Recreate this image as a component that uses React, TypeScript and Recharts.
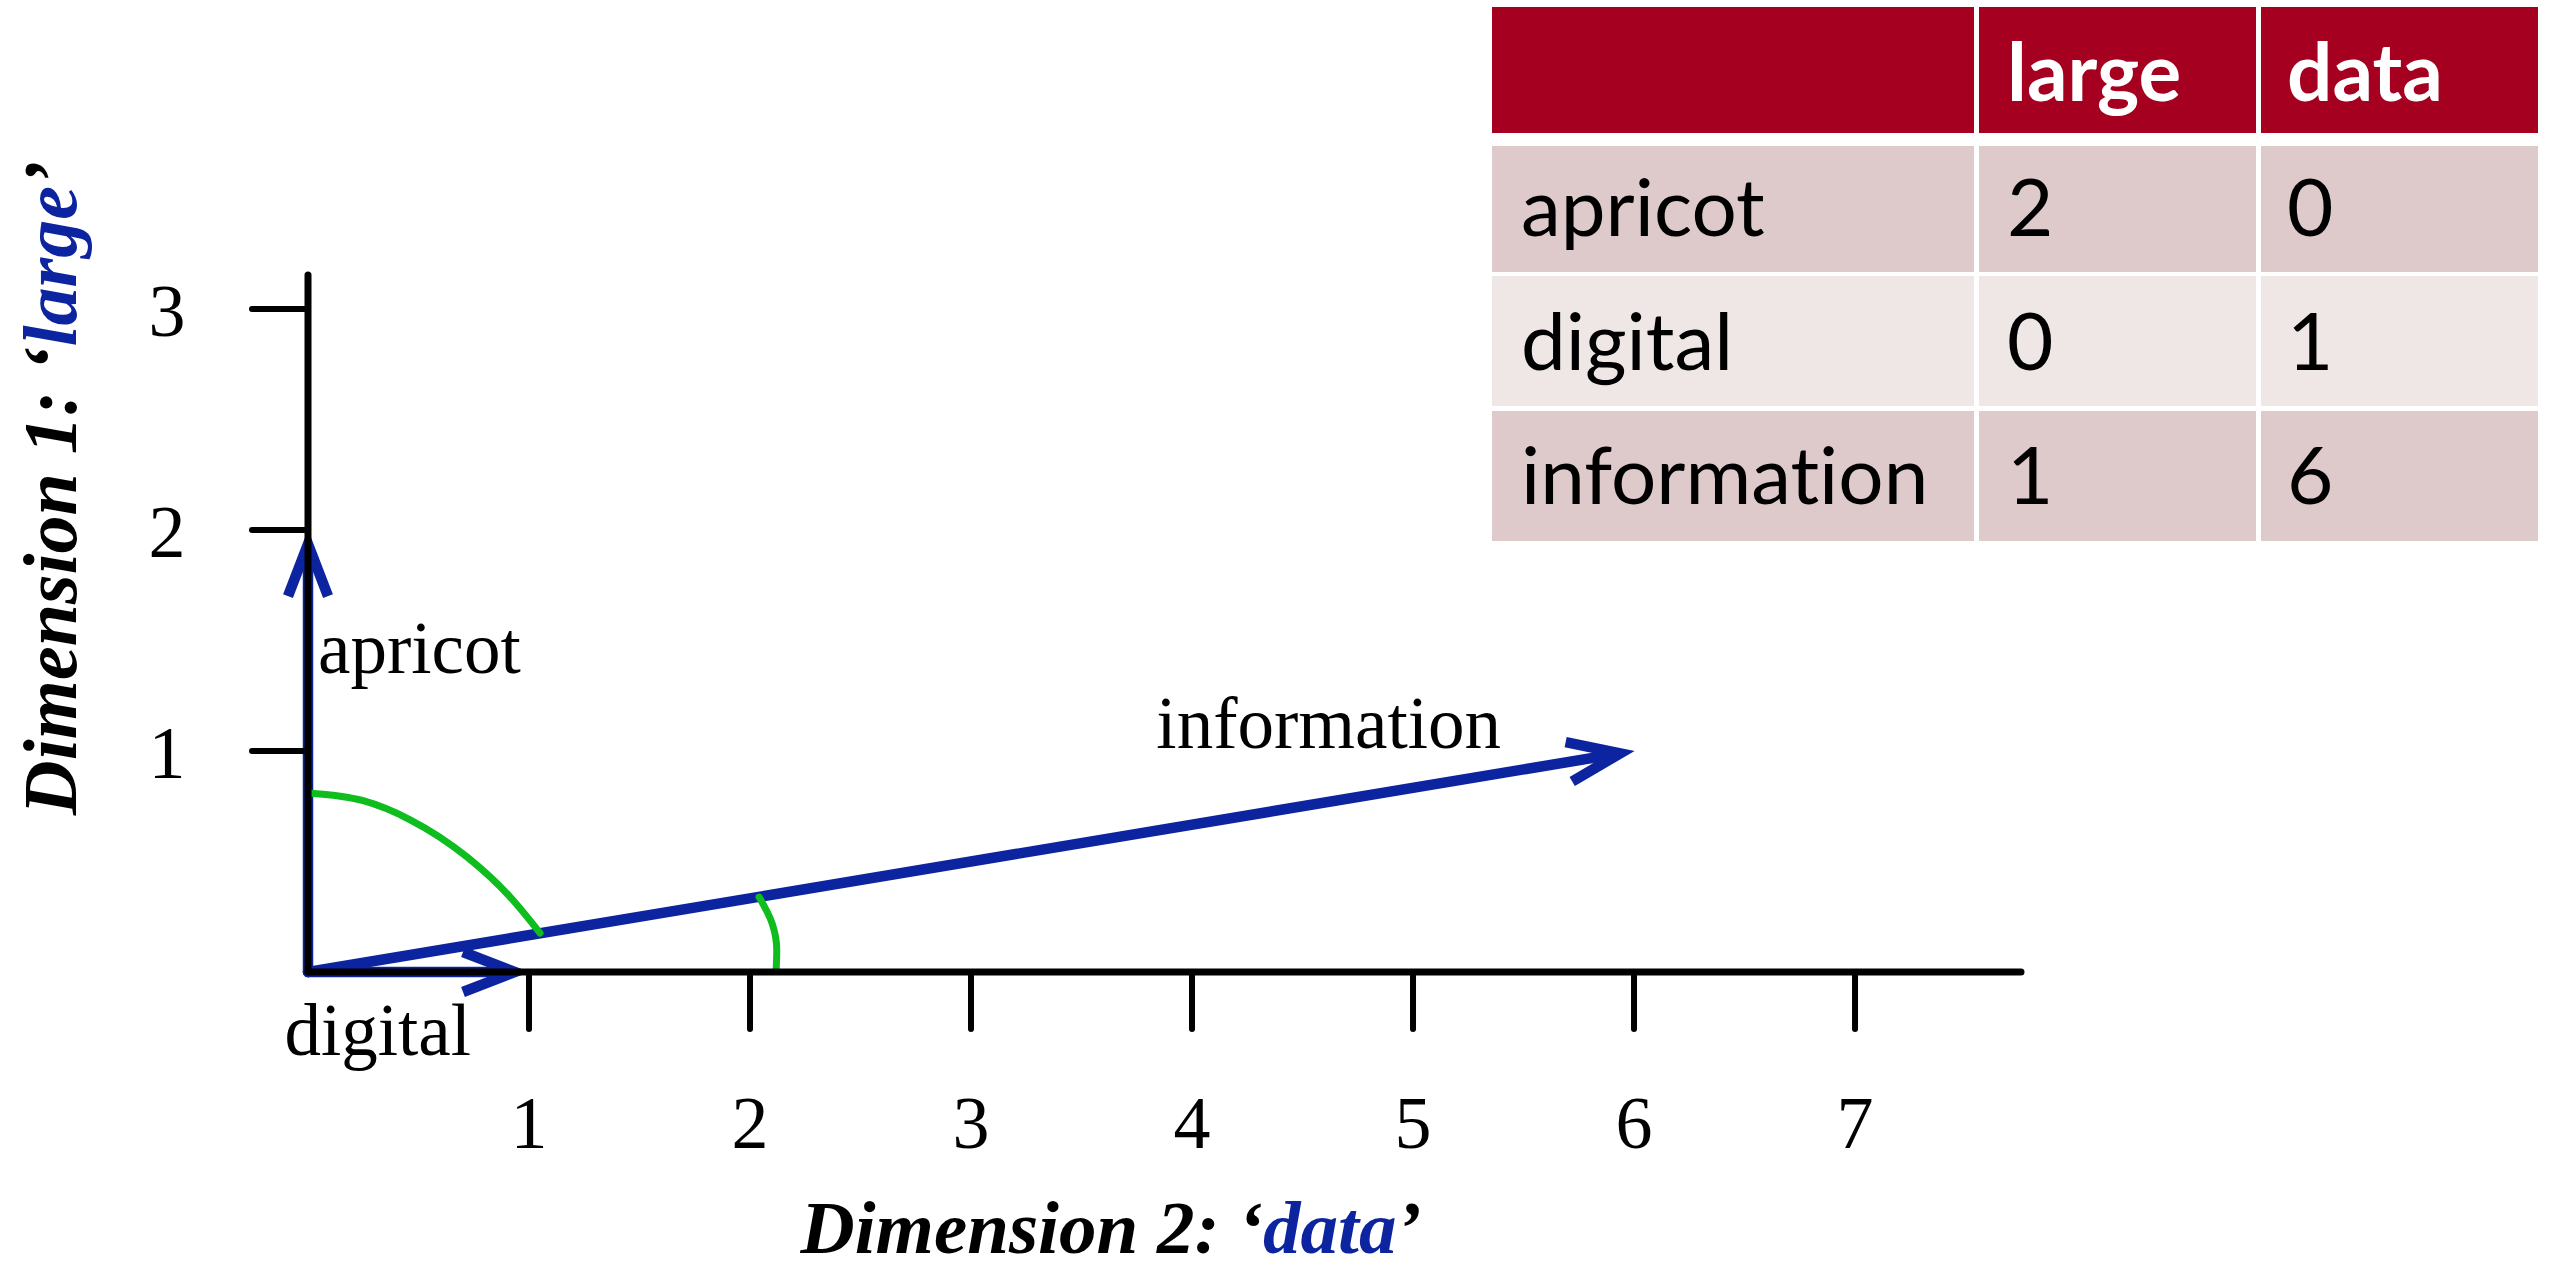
import React from 'react';
import { LineChart, Line, XAxis, YAxis, ReferenceLine } from 'recharts';

// ---------- data ----------
const xTicks = [1, 2, 3, 4, 5, 6, 7];
const yTicks = [1, 2, 3];
const words = ['apricot', 'digital', 'information'];
const largeCounts = [2, 0, 1];
const dataCounts = [0, 1, 6];
const tableHeaders = ['', 'large', 'data'];
const xAxisTitle = ['Dimension 2: \u2018', 'data', '\u2019'];
const yAxisTitle = ['Dimension 1: \u2018', 'large', '\u2019'];

// angle arcs (x = data, y = large)
const arcWide = [
  { x: 0, y: 0.81 },
  { x: 0.25, y: 0.775 },
  { x: 0.46, y: 0.69 },
  { x: 0.72, y: 0.52 },
  { x: 0.914, y: 0.34 },
  { x: 1.05, y: 0.176 },
];
const arcNarrow = [
  { x: 2.041, y: 0.339 },
  { x: 2.1, y: 0.22 },
  { x: 2.121, y: 0.1 },
  { x: 2.118, y: 0 },
];

// ---------- styles ----------
const BLUE = '#0D24A0';
const GREEN = '#0FBE1E';
const SERIF = '"Liberation Serif", "Times New Roman", serif';
const SANS = 'Lato, "Open Sans", sans-serif';
const labelStyle: Record<string, { dx: number; dy: number; anchor: string }> = {
  apricot: { dx: 10, dy: 143, anchor: 'start' },
  digital: { dx: -58, dy: 83, anchor: 'end' },
  information: { dx: -133, dy: -3, anchor: 'end' },
};

const renderVector = (p: any, word: string) => {
  const { x1, y1, x2, y2 } = p;
  const dx = x2 - x1;
  const dy = y2 - y1;
  const len = Math.hypot(dx, dy);
  const ux = dx / len;
  const uy = dy / len;
  const nx = -uy;
  const ny = ux;
  const vx = x2 - ux * 14;
  const vy = y2 - uy * 14;
  const back = 52;
  const side = 20;
  const b1x = vx - ux * back + nx * side;
  const b1y = vy - uy * back + ny * side;
  const b2x = vx - ux * back - nx * side;
  const b2y = vy - uy * back - ny * side;
  const ls = labelStyle[word];
  return (
    <g>
      <line x1={x1} y1={y1} x2={vx - ux * 8} y2={vy - uy * 8} stroke={BLUE} strokeWidth={10.5} strokeLinecap="round" />
      <polyline
        points={`${b1x},${b1y} ${vx},${vy} ${b2x},${b2y}`}
        fill="none"
        stroke={BLUE}
        strokeWidth={10.5}
        strokeLinejoin="miter"
        strokeMiterlimit={6}
        strokeLinecap="butt"
      />
      <text x={x2 + ls.dx} y={y2 + ls.dy} textAnchor={ls.anchor as any} fontFamily={SERIF} fontSize={73} fill="#000">
        {word}
      </text>
    </g>
  );
};

const XTick = (props: any) => {
  const { x, y, payload } = props;
  return (
    <text x={x} y={y + 119} textAnchor="middle" fontFamily={SERIF} fontSize={74} fill="#000">
      {payload.value}
    </text>
  );
};

const YTick = (props: any) => {
  const { x, y, payload } = props;
  return (
    <text x={x - 85} y={y + 27} textAnchor="middle" fontFamily={SERIF} fontSize={74} fill="#000">
      {payload.value}
    </text>
  );
};

const XTitle = () => (
  <text x={1111} y={1253} textAnchor="middle" fontFamily={SERIF} fontWeight="bold" fontStyle="italic" fontSize={75}>
    <tspan fill="#000">{xAxisTitle[0]}</tspan>
    <tspan fill={BLUE}>{xAxisTitle[1]}</tspan>
    <tspan fill="#000">{xAxisTitle[2]}</tspan>
  </text>
);

const YTitle = () => (
  <text
    x={76}
    y={488}
    transform="rotate(-90, 76, 488)"
    textAnchor="middle"
    fontFamily={SERIF}
    fontWeight="bold"
    fontStyle="italic"
    fontSize={76}
  >
    <tspan fill="#000">{yAxisTitle[0]}</tspan>
    <tspan fill={BLUE}>{yAxisTitle[1]}</tspan>
    <tspan fill="#000">{yAxisTitle[2]}</tspan>
  </text>
);

const TermTable = () => {
  const cols = [
    { x: 0, w: 482, tx: 29 },
    { x: 487, w: 277, tx: 515 },
    { x: 769, w: 277, tx: 795 },
  ];
  const rows = [
    { y: 0, h: 126, fill: '#A5001F', base: 94 },
    { y: 139, h: 126, fill: '#DFCACB', base: 229 },
    { y: 269, h: 130, fill: '#EFE6E6', base: 363 },
    { y: 404, h: 130, fill: '#DFCACB', base: 497 },
  ];
  const cells: string[][] = [
    tableHeaders,
    ...words.map((w, i) => [w, String(largeCounts[i]), String(dataCounts[i])]),
  ];
  return (
    <svg width={1046} height={534} style={{ position: 'absolute', left: 1492, top: 7 }}>
      {rows.map((r, ri) =>
        cols.map((c, ci) => (
          <g key={`${ri}-${ci}`}>
            <rect x={c.x} y={r.y} width={c.w} height={r.h} fill={r.fill} />
            <text
              x={c.tx}
              y={r.base}
              fontFamily={SANS}
              fontSize={80}
              fontWeight={ri === 0 ? 'bold' : 'normal'}
              fill={ri === 0 ? '#FFFFFF' : '#000000'}
              style={{ fontVariantLigatures: 'none', fontFeatureSettings: '"liga" 0, "clig" 0' }}
            >
              {cells[ri][ci]}
            </text>
          </g>
        ))
      )}
    </svg>
  );
};

export default function App() {
  return (
    <div style={{ position: 'absolute', left: 0, top: 0, width: 2550, height: 1270, background: '#fff', overflow: 'hidden' }}>
      <LineChart width={2550} height={1270} margin={{ top: 275, right: 529, bottom: 0, left: 0 }}>
        <XAxis
          type="number"
          dataKey="x"
          domain={[0, 7.751]}
          ticks={xTicks}
          allowDataOverflow
          height={298}
          tickSize={57}
          tickMargin={0}
          axisLine={{ stroke: '#000', strokeWidth: 7, strokeLinecap: 'round' }}
          tickLine={{ stroke: '#000', strokeWidth: 6, strokeLinecap: 'round' }}
          tick={<XTick />}
          label={<XTitle />}
        />
        <YAxis
          type="number"
          domain={[0, 3.154]}
          ticks={yTicks}
          allowDataOverflow
          width={308}
          tickSize={56}
          tickMargin={0}
          axisLine={{ stroke: '#000', strokeWidth: 7, strokeLinecap: 'round' }}
          tickLine={{ stroke: '#000', strokeWidth: 6, strokeLinecap: 'round' }}
          tick={<YTick />}
          label={<YTitle />}
        />
        {words.map((w, i) => (
          <ReferenceLine
            key={w}
            segment={[
              { x: 0, y: 0 },
              { x: dataCounts[i], y: largeCounts[i] },
            ]}
            ifOverflow="visible"
            shape={(p: any) => renderVector(p, w)}
          />
        ))}
        <Line data={arcWide} dataKey="y" type="monotone" stroke={GREEN} strokeWidth={7} strokeLinecap="round" dot={false} activeDot={false} isAnimationActive={false} />
        <Line data={arcNarrow} dataKey="y" type="monotoneY" stroke={GREEN} strokeWidth={7} strokeLinecap="round" dot={false} activeDot={false} isAnimationActive={false} />
      </LineChart>
      <TermTable />
    </div>
  );
}
